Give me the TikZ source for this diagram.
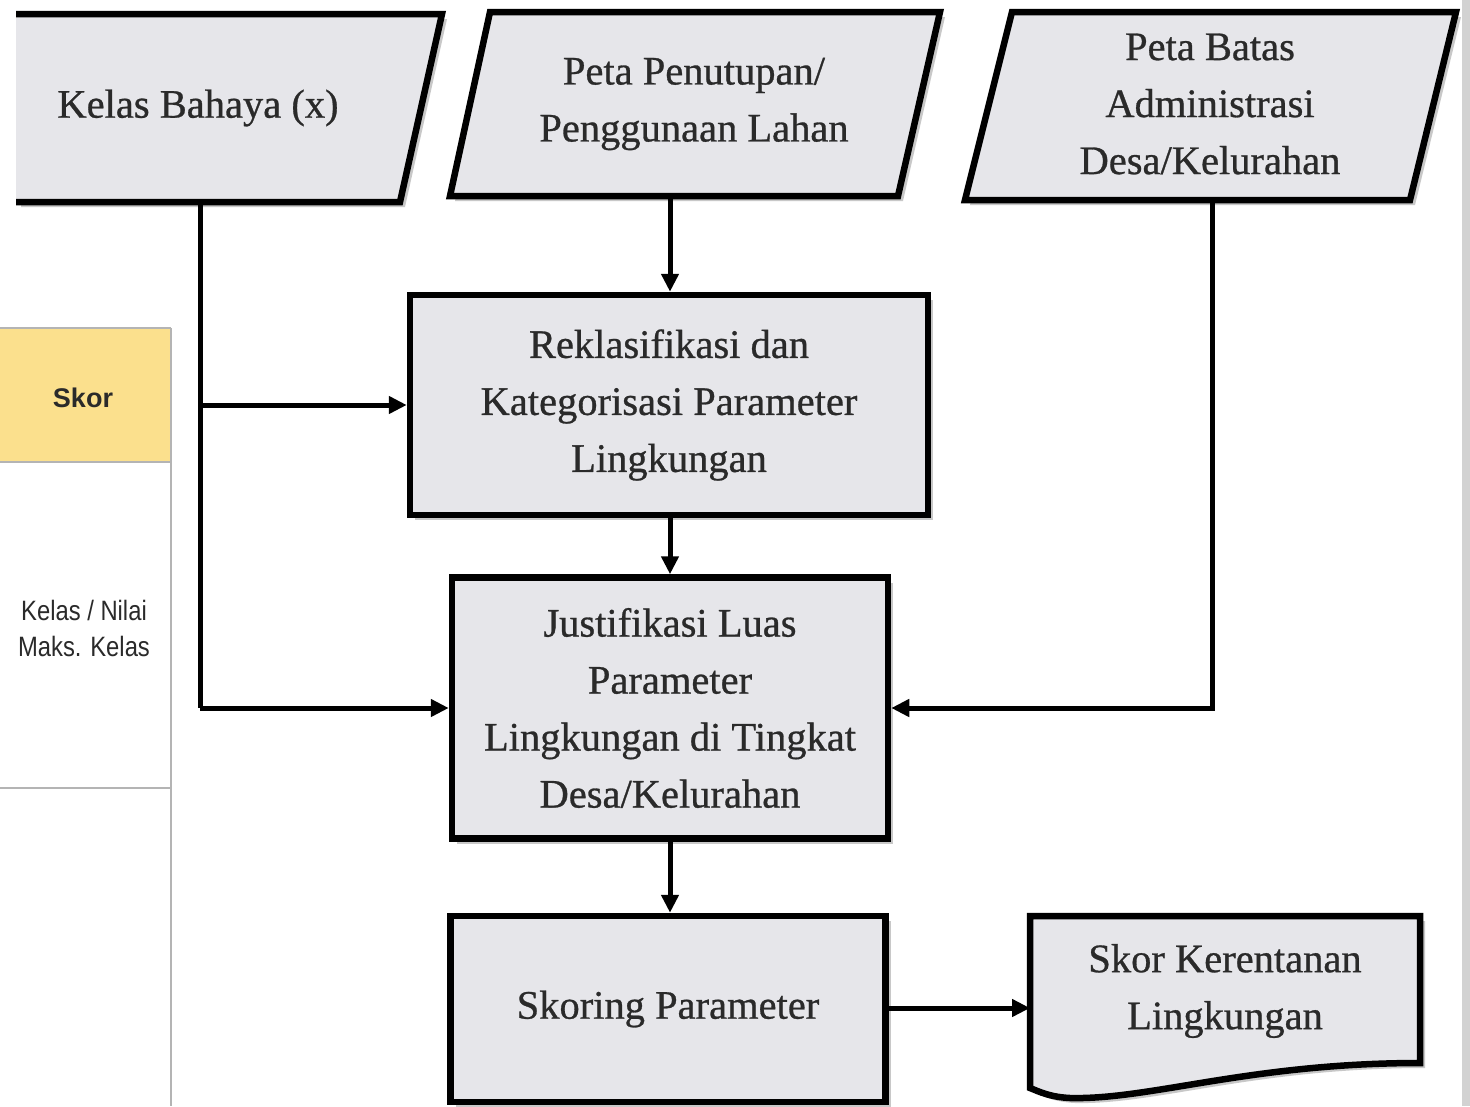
\documentclass[tikz,border=0pt]{standalone}
\usepackage{fontspec}
\usepackage{graphicx}
\setmainfont[FakeBold=0.7]{Liberation Serif}
\newfontfamily\tabfont{Liberation Sans}
\usetikzlibrary{arrows.meta,shadows,calc}

\definecolor{boxfill}{HTML}{E6E6EA}
\definecolor{inktext}{HTML}{2A2A2A}
\definecolor{skorhead}{HTML}{FBE08D}
\definecolor{tablerule}{HTML}{B4B4B4}
\definecolor{edgestrip}{HTML}{D2D2D2}

\tikzset{
  boxshadow/.style={drop shadow={shadow xshift=5pt,shadow yshift=-5pt,opacity=.3,fill=black!70}},
  procbox/.style={draw=black, line width=6.5pt, fill=boxfill, boxshadow,
    align=center, text=inktext, inner sep=0pt},
  datashape/.style={draw=black, line width=6.5pt, fill=boxfill, line join=miter},
  lbl/.style={align=center, text=inktext, font=\fontsize{40.5}{57}\selectfont},
  flow/.style={line width=5pt, draw=black, -{Triangle[length=18pt,width=17pt]}},
  tabtext/.style={align=center, text=inktext},
}

\begin{document}
\begin{tikzpicture}[x=1pt,y=-1pt]
\useasboundingbox (0,0) rectangle (1470,1106);
\fill[white] (0,0) rectangle (1470,1106);

% strip along the right edge
\fill[edgestrip] (1462,0) rectangle (1470,1106);

% side table
\fill[skorhead] (0,328) rectangle (170,462);
\draw[tablerule, line width=2pt] (0,328) -- (171,328);
\draw[tablerule, line width=2pt] (0,462) -- (171,462);
\draw[tablerule, line width=2pt] (0,788) -- (171,788);
\draw[tablerule, line width=2pt] (171,328) -- (171,1106);
\node[tabtext, font=\tabfont\bfseries\fontsize{27}{30}\selectfont] (skor) at (83,398) {Skor};
\node[tabtext, font=\tabfont\fontsize{28}{36}\selectfont] (kelasnilai) at (84,628)
  {\scalebox{0.85}[1]{Kelas / Nilai}\\\scalebox{0.85}[1]{Maks. Kelas}};

% input data (parallelograms)
\fill[boxfill, boxshadow] (16,14) -- (442,14) -- (400,202) -- (16,202) -- cycle;
\draw[line width=6.5pt, line join=miter] (16,14) -- (442,14) -- (400,202) -- (16,202);
\node[lbl] (bahaya) at (198,108) {Kelas Bahaya (x)};
\coordinate (bahayaout) at (200,202);

\path[datashape, boxshadow] (490,12) -- (940,12) -- (898,196) -- (450,196) -- cycle;
\node[lbl] (tutupan) at (694,104) {Peta Penutupan/\\Penggunaan Lahan};
\coordinate (tutupanout) at (670,196);

\path[datashape, boxshadow] (1012,12) -- (1456,12) -- (1410,200) -- (965,200) -- cycle;
\node[lbl] (batas) at (1210,104) {Peta Batas\\Administrasi\\Desa/Kelurahan};
\coordinate (batasout) at (1212,200);

% process boxes
\node[procbox, minimum width=518pt, minimum height=220pt] (rekl) at (669,405) {};
\node[lbl] (rekltext) at (rekl.center) {Reklasifikasi dan\\Kategorisasi Parameter\\Lingkungan};

\node[procbox, minimum width=436pt, minimum height=261pt] (just) at (670,708) {};
\node[lbl] (justtext) at (just.center) {Justifikasi Luas\\Parameter\\Lingkungan di Tingkat\\Desa/Kelurahan};

\node[procbox, minimum width=435pt, minimum height=186pt] (skoring) at (668,1009) {};
\node[lbl] (skoringtext) at (skoring.center) {Skoring Parameter};

% output document
\path[datashape, boxshadow] (1030,916) -- (1420,916) -- (1420,1063)
  .. controls (1250,1063) and (1150,1100) .. (1070,1098)
  .. controls (1050,1097) and (1040,1092) .. (1030,1088) -- cycle;
\coordinate (docin) at (1030,1008);
\node[lbl] (skortext) at (1225,991) {Skor Kerentanan\\Lingkungan};

% connectors
\draw[flow] (tutupanout) -- (tutupanout |- rekl.north);
\draw[line width=5pt] (bahayaout) -- (bahayaout |- just.west);
\draw[flow] (bahayaout |- rekl.west) -- (rekl.west);
\draw[flow] (bahayaout |- just.west) -- (just.west);
\draw[flow] (batasout) |- (just.east);
\draw[flow] (rekl.south -| tutupanout) -- (just.north -| tutupanout);
\draw[flow] (just.south -| tutupanout) -- (skoring.north -| tutupanout);
\draw[flow] (skoring.east |- docin) -- (docin);
\end{tikzpicture}
\end{document}
